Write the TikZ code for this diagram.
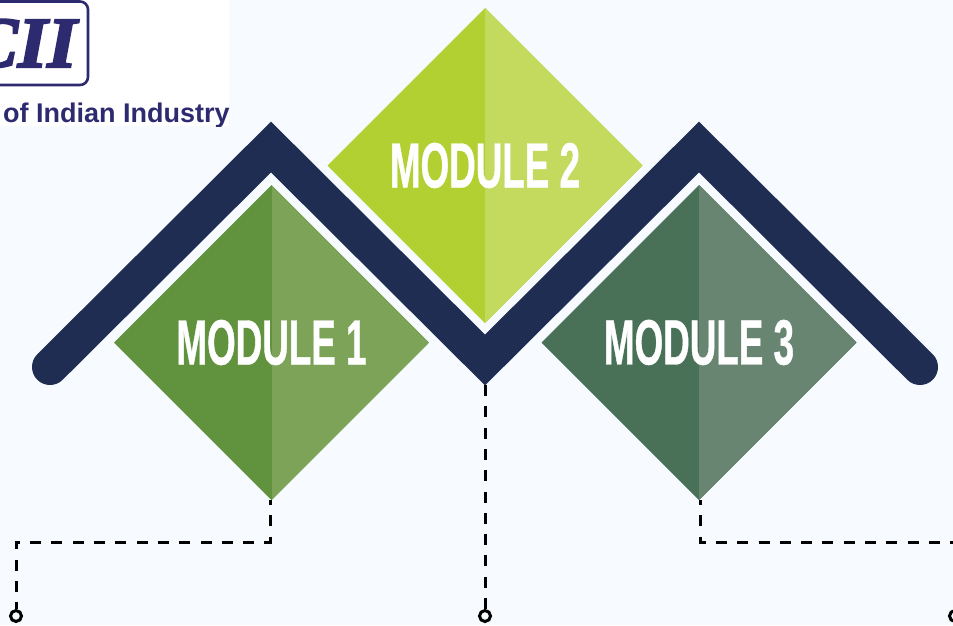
\documentclass[tikz,border=0pt]{standalone}
\usepackage{fontspec}
\usetikzlibrary{shapes.geometric}
\setmainfont{Liberation Sans}
\newfontfamily\modulefont[FakeStretch=0.575,FakeBold=0.6]{Liberation Sans Bold}
\newfontfamily\logofont[FakeBold=3,FakeStretch=1.05]{Liberation Serif Bold Italic}
\definecolor{pagebg}{HTML}{F7FBFF}
\definecolor{navy}{HTML}{1F2D52}
\definecolor{logoblue}{HTML}{2E2A6F}
\definecolor{oneL}{HTML}{61933F}
\definecolor{oneR}{HTML}{7DA358}
\definecolor{twoL}{HTML}{B3D033}
\definecolor{twoR}{HTML}{C3DA5F}
\definecolor{threeL}{HTML}{487158}
\definecolor{threeR}{HTML}{688572}
\tikzset{
  modulebox/.style 2 args={diamond,aspect=1,minimum size=315pt,inner sep=0pt,outer sep=0pt,
    text=white,font=\modulefont\fontsize{64}{64}\selectfont,fill=#1,
    path picture={\fill[#2] (path picture bounding box.north) rectangle (path picture bounding box.south east);}},
  dashline/.style={draw=black,line width=3pt,dash pattern=on 11pt off 10.3pt},
  endring/.style={circle,draw=black,line width=3pt,fill=none,minimum size=11pt,inner sep=0pt}
}
\begin{document}
\begin{tikzpicture}[x=1pt,y=-1pt]
\useasboundingbox (0,0) rectangle (953,625);
\fill[pagebg] (0,0) rectangle (953,625);
%logo
\fill[white] (0,0) rectangle (229,126);
\begin{scope}
\clip (0,0) rectangle (229,126);
\draw[logoblue,line width=2.6pt,rounded corners=8pt] (-30,1.5) rectangle (88,85);
\node[anchor=base east,inner sep=0pt,text=logoblue,font=\logofont\fontsize{72}{72}\selectfont] (logomark) at (77,67) {CII};
\node[anchor=base west,inner sep=0pt,text=logoblue,font=\bfseries\fontsize{27}{28}\selectfont] (logoname) at (3,122) {of Indian Industry};
\end{scope}
%chevron
\draw[navy,line width=36pt,line cap=round,miter limit=10] (50,367) -- (271,147) -- (485,360) -- (699,147) -- (920,367);
%modules
\foreach \idx/\cx/\cy/\colL/\colR in {1/271.5/342.5/oneL/oneR,2/485/165.5/twoL/twoR,3/699/342.5/threeL/threeR}
{
  \node[modulebox={\colL}{\colR}] (mod\idx) at (\cx,\cy) {\raisebox{-2.5pt}{MODULE \idx}};
}
%end rings
\node[endring] (ring1) at (16,616) {};
\node[endring] (ring2) at (485,616) {};
\node[endring] (ring3) at (955,616) {};
%dashed links
\coordinate (turn1) at (16,542);
\coordinate (turn3) at (960,542);
\coordinate (tip2) at (485,385);
\draw[dashline,dash phase=6pt] ([xshift=-1.5pt]mod1.south) |- (turn1) -- (ring1.north);
\draw[dashline] (tip2) -- (ring2.north);
\draw[dashline,dash phase=6pt] ([xshift=1pt]mod3.south) |- (turn3);
\end{tikzpicture}
\end{document}
